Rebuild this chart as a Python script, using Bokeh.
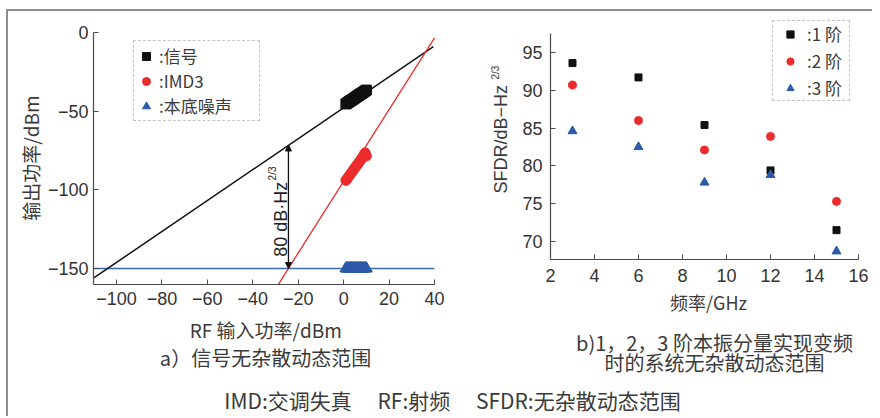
import math
from bokeh.plotting import figure
from bokeh.models import Label, Legend, LegendItem, Range1d, FixedTicker, Arrow, NormalHead
from bokeh.layouts import column, row
from bokeh.embed import file_html
from bokeh.resources import INLINE

# ---------------- panel a) data ----------------
rf_ticks = [-100, -80, -60, -40, -20, 0, 20, 40]
pout_ticks = [-150, -100, -50, 0]
rf_in = [1.0, 1.5, 2.0, 2.5, 3.0, 3.5, 4.0, 4.5, 5.0, 5.5, 6.0, 6.5, 7.0, 7.5, 8.0, 8.5, 9.0, 9.5, 10.0]
signal_out = [-45.4, -44.9, -44.4, -43.9, -43.4, -43.0, -42.5, -42.0, -41.5, -41.0,
              -40.5, -40.0, -39.5, -39.0, -38.6, -38.1, -37.6, -37.1, -36.6]
imd3_out = [-94.0, -93.0, -92.0, -91.0, -90.0, -89.0, -88.0, -87.0, -86.0, -85.0,
            -84.0, -83.0, -82.0, -81.0, -80.0, -79.0, -77.5, -76.5, -78.5]
noise_out = [-150.0, -150.0, -150.0, -150.0, -150.0, -150.0, -150.0, -150.0, -150.0, -150.0,
             -150.0, -150.0, -150.0, -150.0, -150.0, -150.0, -150.0, -150.0, -150.0]
fund_fit_x = [-110.0, 39.5]
fund_fit_y = [-156.0, -9.0]
imd3_fit_x = [-28.8, 40.0]
imd3_fit_y = [-160.2, -3.4]
floor_x = [-110.0, 40.0]
floor_y = [-150.0, -150.0]
sfdr_x = -24.3
sfdr_top = -71.5
sfdr_bottom = -150.0
sfdr_value = "80 dB·Hz"
sfdr_sup = "2/3"
a_x_bounds = (-110.1, 40.0)
a_y_bounds = (-160.2, 0.0)

# ---------------- panel b) data ----------------
freq = [3, 6, 9, 12, 15]
sfdr_1 = [93.6, 91.7, 85.4, 79.4, 71.5]
sfdr_2 = [90.7, 86.0, 82.1, 83.9, 75.3]
sfdr_3 = [84.6, 82.5, 77.8, 78.8, 68.7]
freq_ticks = [2, 4, 6, 8, 10, 12, 14, 16]
sfdr_ticks = [70, 75, 80, 85, 90, 95]
b_x_bounds = (2.0, 16.0)
b_y_bounds = (67.6, 97.5)

LAT = "Liberation Sans"
CJK = "Noto Sans CJK SC"
TXT = "#3a3a3a"
AX = "#4a4a4a"
BLACK = "#111111"
RED = "#ec2b2d"
BLUE = "#2d5aa8"


def minus(v):
    return str(v).replace("-", "\u2212")


def style_axes(p, xt, yt, xb, yb, fs="18px"):
    for ax in (p.xaxis[0], p.yaxis[0]):
        ax.axis_line_color = AX
        ax.axis_line_width = 1.2
        ax.major_tick_line_color = AX
        ax.major_tick_in = 5
        ax.major_tick_out = 0
        ax.minor_tick_line_color = None
        ax.major_label_text_font = LAT
        ax.major_label_text_font_size = fs
        ax.major_label_text_color = "#333333"
    p.xaxis[0].ticker = FixedTicker(ticks=xt)
    p.yaxis[0].ticker = FixedTicker(ticks=yt)
    p.xaxis[0].major_label_overrides = {t: minus(t) for t in xt}
    p.yaxis[0].major_label_overrides = {t: minus(t) for t in yt}
    p.xaxis[0].bounds = xb
    p.yaxis[0].bounds = yb
    p.xaxis[0].fixed_location = yb[0]
    p.yaxis[0].fixed_location = xb[0]
    p.grid.visible = False
    p.outline_line_color = None


def text(p, s, x, y, size="18px", font=CJK, angle=0.0, align="center", color=TXT):
    p.add_layout(Label(x=x, y=y, x_units="screen", y_units="screen", text=s, angle=angle,
                       text_font=font, text_font_size=size, text_color=color,
                       text_align=align, text_baseline="middle"))


# ================= panel a =================
p1 = figure(width=440, height=369, x_range=Range1d(-147.55, 46.16), y_range=Range1d(-221.2, 13.35),
            output_backend="svg", toolbar_location=None, min_border=0)
style_axes(p1, rf_ticks, pout_ticks, a_x_bounds, a_y_bounds)
p1.xaxis[0].major_label_standoff = 7
p1.yaxis[0].major_label_standoff = 5

p1.line(floor_x, floor_y, line_color="#3a68b5", line_width=1.6)
p1.line(fund_fit_x, fund_fit_y, line_color=BLACK, line_width=1.5)
p1.line(imd3_fit_x, imd3_fit_y, line_color=RED, line_width=1.3)
r_sig = p1.scatter(rf_in, signal_out, marker="square", size=10, color=BLACK)
r_imd = p1.scatter(rf_in, imd3_out, marker="circle", size=10, color=RED)
r_nf = p1.scatter(rf_in, noise_out, marker="triangle", size=12, color=BLUE)

p1.add_layout(Arrow(x_start=sfdr_x, y_start=sfdr_bottom, x_end=sfdr_x, y_end=sfdr_top,
                    line_color=BLACK, line_width=1.3,
                    start=NormalHead(size=6, fill_color=BLACK, line_color=BLACK),
                    end=NormalHead(size=6, fill_color=BLACK, line_color=BLACK)))
p1.add_layout(Label(x=sfdr_x - 3.4, y=-142.5, text=sfdr_value, angle=math.pi / 2,
                    text_font=LAT, text_font_size="18px", text_color="#222222",
                    text_align="left", text_baseline="alphabetic"))
p1.add_layout(Label(x=sfdr_x - 7.0, y=-94.0, text=sfdr_sup, angle=math.pi / 2,
                    text_font=LAT, text_font_size="10px", text_color="#222222",
                    text_align="left", text_baseline="alphabetic"))

leg1 = Legend(items=[LegendItem(label=":信号", renderers=[r_sig]),
                     LegendItem(label=":IMD3", renderers=[r_imd]),
                     LegendItem(label=":本底噪声", renderers=[r_nf])],
              location=(125, 259), orientation="vertical",
              padding=2, spacing=0, margin=0,
              glyph_width=20, glyph_height=20, label_height=24, label_width=98,
              label_standoff=3,
              label_text_font=CJK, label_text_font_size="17px", label_text_color=TXT,
              border_line_color="#8a8a8a", border_line_dash="2 2", border_line_width=1,
              background_fill_alpha=1.0)
p1.add_layout(leg1, "center")

text(p1, "输出功率/dBm", 22, 222, size="19px", angle=math.pi / 2)
text(p1, "RF 输入功率/dBm", 257, 51, size="19px")
text(p1, "a）信号无杂散动态范围", 257, 23, size="20px")

# ================= panel b =================
p2 = figure(width=424, height=369, x_range=Range1d(-2.636, 16.636), y_range=Range1d(51.61, 100.42),
            output_backend="svg", toolbar_location=None, min_border=0)
style_axes(p2, freq_ticks, sfdr_ticks, b_x_bounds, b_y_bounds)
p2.xaxis[0].major_label_standoff = 9
p2.yaxis[0].major_label_standoff = 8

q1 = p2.scatter(freq, sfdr_1, marker="square", size=7, color=BLACK)
q2 = p2.scatter(freq, sfdr_2, marker="circle", size=8, color=RED)
q3 = p2.scatter(freq, sfdr_3, marker="triangle", size=9, color=BLUE)

leg2 = Legend(items=[LegendItem(label=":1 阶", renderers=[q1]),
                     LegendItem(label=":2 阶", renderers=[q2]),
                     LegendItem(label=":3 阶", renderers=[q3])],
              location=(324, 279), orientation="vertical",
              padding=0, spacing=2, margin=0,
              glyph_width=34, glyph_height=18, label_height=24, label_width=42,
              label_standoff=0,
              label_text_font=CJK, label_text_font_size="17px", label_text_color=TXT,
              border_line_color="#8a8a8a", border_line_dash="2 2", border_line_width=1,
              background_fill_alpha=1.0)
p2.add_layout(leg2, "center")

text(p2, "SFDR/dB\u2212Hz", 52, 187, font=LAT, angle=math.pi / 2, align="left")
text(p2, "2/3", 47, 301, size="10px", font=LAT, angle=math.pi / 2, align="left")
text(p2, "频率/GHz", 260, 79)
text(p2, "b)1，2，3 阶本振分量实现变频", 266, 38, size="20px")
text(p2, "时的系统无杂散动态范围", 266, 18, size="20px")

# ================= footer =================
p3 = figure(width=864, height=36, x_range=Range1d(0, 1), y_range=Range1d(0, 1),
            x_axis_type=None, y_axis_type=None, output_backend="svg",
            toolbar_location=None, min_border=0)
p3.outline_line_color = None
text(p3, "IMD:交调失真　 RF:射频　 SFDR:无杂散动态范围", 444, 17, size="21px")

layout = column(row(p1, p2), p3,
                styles={"margin-left": "6px", "margin-top": "9px",
                        "border-top": "2px solid #8c8c8c", "border-left": "2px solid #8c8c8c"})

open("out.html", "w").write(file_html(layout, INLINE))
